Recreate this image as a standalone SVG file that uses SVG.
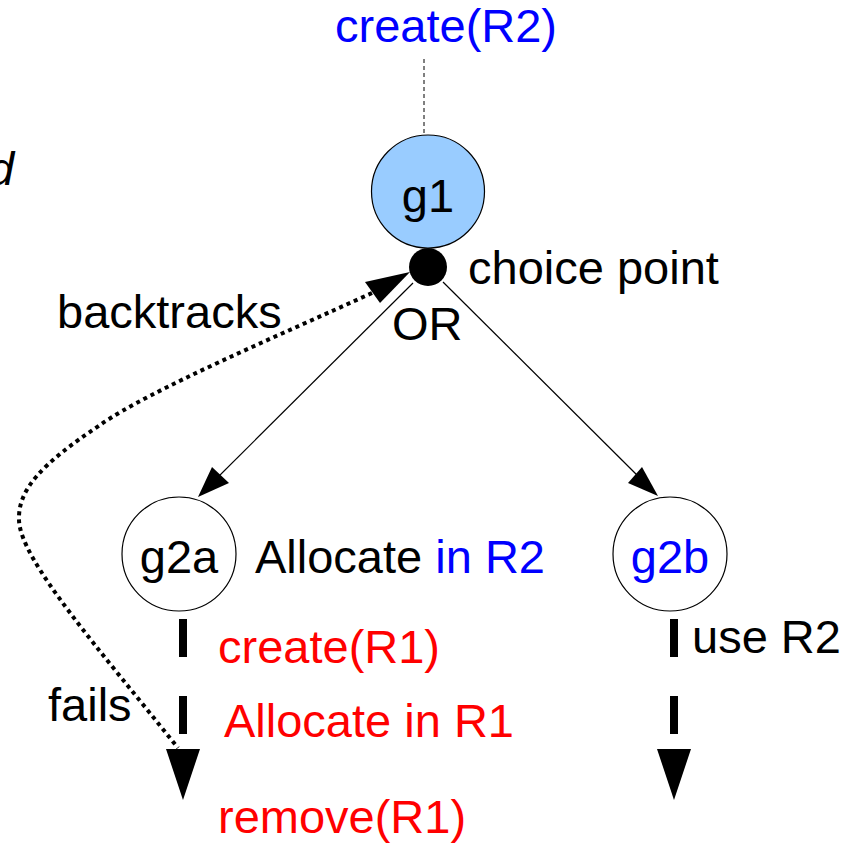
<svg xmlns="http://www.w3.org/2000/svg" width="848" height="843" viewBox="0 0 848 843">
<style>
text{font-family:"Liberation Sans",Arial,sans-serif;font-size:47px;fill:#000}
.blue{fill:#0000ff}
.red{fill:#ff0000}
.node{fill:#fff;stroke:#000;stroke-width:1.2}
.thin{stroke:#000;stroke-width:1.2;fill:none}
.dash{stroke:#000;stroke-width:8;stroke-dasharray:38 39;fill:none}
.dots{stroke:#000;stroke-width:4;stroke-dasharray:4 4;fill:none}
</style>
<rect width="848" height="843" fill="#fff"/>
<text x="-12" y="185" font-style="italic" font-size="58">d</text>
<text class="blue" x="335" y="42">create(R2)</text>
<g id="connectors">
  <line x1="424" y1="59" x2="424" y2="135" stroke="#000" stroke-width="1" stroke-dasharray="4 3"/>
  <line class="thin" x1="413" y1="283" x2="210" y2="485"/>
  <polygon points="198,497 212,467 229,483"/>
  <line class="thin" x1="443" y1="282" x2="646" y2="484"/>
  <polygon points="658,496 628,483 642,467"/>
  <path class="dots" d="M372 293 C280 335 150 390 100 425 C40 465 18 490 19 520 C20 560 100 650 178 748"/>
  <polygon points="410,272 365,282 380,303"/>
  <line class="dash" x1="183" y1="619" x2="183" y2="749"/>
  <polygon points="166,749 200,749 183,800"/>
  <line class="dash" x1="674" y1="619" x2="674" y2="749"/>
  <polygon points="657,749 691,749 674,800"/>
</g>
<g id="g1">
  <circle cx="428" cy="191.5" r="56.5" fill="#99ccff" stroke="#000" stroke-width="1.2"/>
  <text x="428" y="212" text-anchor="middle">g1</text>
</g>
<g id="choice">
  <circle cx="428" cy="267" r="19"/>
  <text x="468" y="284">choice point</text>
  <text x="392" y="340">OR</text>
</g>
<g id="g2a">
  <circle class="node" cx="179" cy="554" r="57"/>
  <text x="179" y="573" text-anchor="middle">g2a</text>
  <text x="255" y="573">Allocate <tspan class="blue">in R2</tspan></text>
</g>
<g id="g2b">
  <circle class="node" cx="670" cy="554" r="57"/>
  <text class="blue" x="670" y="573" text-anchor="middle">g2b</text>
</g>
<text x="57" y="328">backtracks</text>
<text x="48" y="721">fails</text>
<text class="red" x="218" y="663">create(R1)</text>
<text class="red" x="224" y="737">Allocate in R1</text>
<text class="red" x="218" y="833">remove(R1)</text>
<text x="692" y="653">use R2</text>
</svg>
